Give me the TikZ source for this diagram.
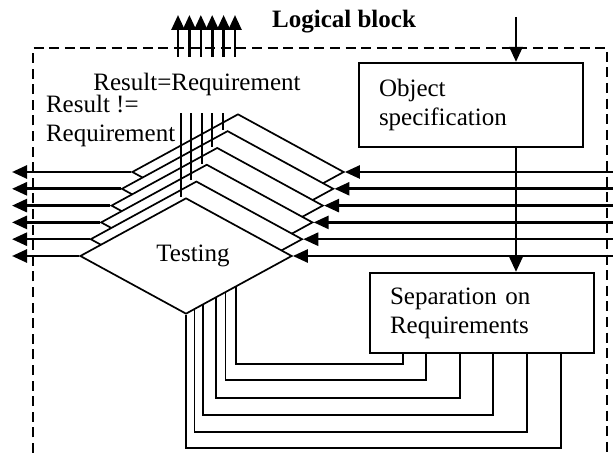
\documentclass[tikz,border=0pt]{standalone}
\usepackage{fontspec}
\setmainfont{Liberation Serif}
\usetikzlibrary{arrows.meta, positioning, shapes.geometric, calc}

\tikzset{
    flow/.style={line width=1.3pt, -{Triangle[length=7.5pt,width=6.5pt]}},
    stage/.style={diamond, draw, line width=0.85pt, fill=white, inner sep=0pt,
        minimum width=106pt, minimum height=58pt},
    block/.style={draw, line width=1.1pt, minimum width=112pt, inner xsep=10pt,
        text width=92pt, align=left},
    link/.style={line width=0.85pt},
}

\begin{document}
\begin{tikzpicture}[x=0.5pt, y=-0.5pt, font=\fontsize{12.5}{14.4}\selectfont]
    \useasboundingbox (0,0) rectangle (613,453);

    % Logical block frame
    \draw[line width=0.9pt, dash pattern=on 5pt off 2.8pt] (33,453) |- (607,48) -- (607,453);
    \node[font=\fontsize{12.5}{14.4}\selectfont\bfseries] (title) at (344,22) {Logical block};

    % Stacked testing stages, back to front
    \foreach \k in {5,...,0} {
        \node[stage] (t\k) at (186+10.4*\k, 256-16.8*\k) {\ifnum\k=0 \hspace*{7pt}Testing\fi};
    }

    \node[block, minimum height=42pt] (objspec) at (471,105) {Object\\specification};
    \node[block, minimum height=40pt] (sepreq) at (482,313) {Separation on\\Requirements};

    \node (eqlbl) at (197,84) {Result=Requirement};
    \node[align=left, anchor=west] (neqlbl) at (39,121) {Result !=\\Requirement};

    % Inputs from the right, outputs to the left
    \coordinate (outL) at (12,0);
    \coordinate (inR) at (613,0);
    \foreach \k in {0,...,5} {
        \draw[flow] (t\k.west) -- (t\k.west -| outL);
        \draw[flow] (t\k.east -| inR) -- (t\k.east);
    }

    % Result lines
    \foreach \i in {0,...,4} {
        \draw[line width=1pt] ([xshift=-2.5pt]t\i.north) -- ([xshift=-2.5pt]t\i.north |- t5.north);
    }

    % Outputs through the top of the frame
    \foreach \i in {0,...,5} {
        \coordinate (up\i) at (178+11.4*\i, 57);
        \draw[flow] (up\i) -- ++(0,-42);
    }

    % Specification feed
    \coordinate (feed) at (516,17);
    \draw[flow] (feed) -- (feed |- objspec.north);
    \draw[flow] (feed |- objspec.south) -- (feed |- sepreq.north);

    % Requirements back to testing
    \foreach \f/\sx/\ly in {0.47/403/364, 0.37/426/380, 0.28/460/398, 0.16/493/415, 0.08/527/432, 0/561/448} {
        \draw[link] ($(t0.south)!\f!(t0.east)$) |- (\sx,\ly) -- (\sx,\ly |- sepreq.south);
    }
\end{tikzpicture}
\end{document}
